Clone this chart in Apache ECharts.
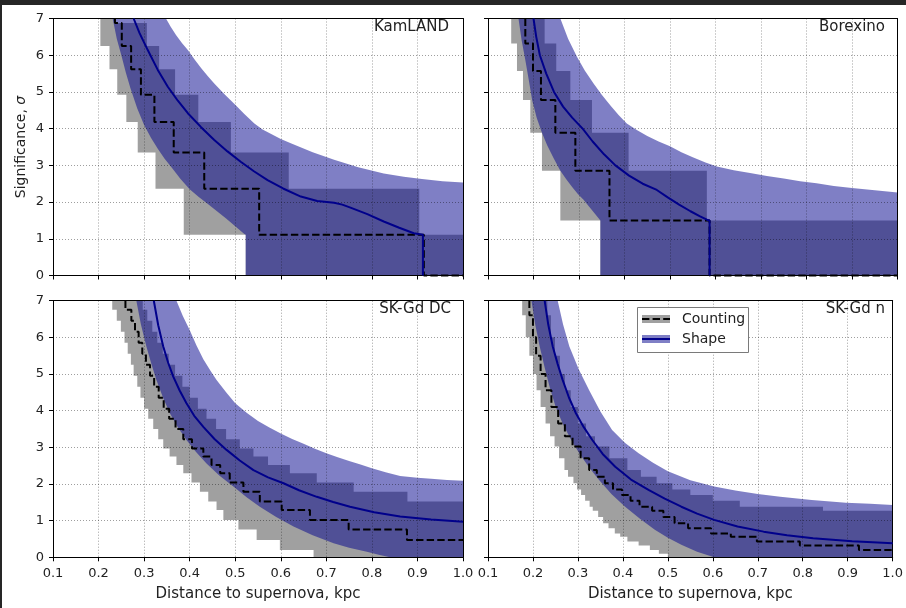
<!DOCTYPE html>
<html><head><meta charset="utf-8">
<script src="https://cdn.jsdelivr.net/npm/echarts@6/dist/echarts.min.js"></script>
<style>html,body{margin:0;padding:0;background:#fff}#c{width:906px;height:608px}</style>
</head><body><div id="c"></div>
<script>
// ================= DATA =================
const xTickLabels = ['0.1','0.2','0.3','0.4','0.5','0.6','0.7','0.8','0.9','1.0'];
const yTickLabels = ['0','1','2','3','4','5','6','7'];
const panelNames = ['KamLAND','Borexino','SK-Gd DC','SK-Gd n'];
const legendNames = ['Counting','Shape'];
const xAxisTitle = 'Distance to supernova, kpc';
const yAxisTitleText = 'Significance, ';
const yAxisTitleSymbol = '\u03c3';

// Counting: significance levels and the distance where each staircase drops to that level
const kamLevels = [6.88, 6.25, 5.62, 4.92, 4.18, 3.35, 2.36, 1.11, 0];
const kamCntLo  = [null, 0.204, 0.224, 0.241, 0.261, 0.286, 0.325, 0.387, 0.523];
const kamCntMed = [0.236, 0.251, 0.2715, 0.293, 0.3226, 0.365, 0.432, 0.5526, 0.914];
const kamCntHi  = [0.236, 0.306, 0.333, 0.368, 0.419, 0.4905, 0.6175, 0.904, null];
// Shape: curves [distance, significance]
const kamShpLo  = [[0.231,7],[0.24,6.45],[0.25,6.0],[0.26,5.52],[0.27,5.1],[0.285,4.55],[0.30,4.1],[0.315,3.75],[0.33,3.45],[0.345,3.18],[0.36,2.95],[0.38,2.63],[0.40,2.35],[0.42,2.14],[0.44,1.95],[0.46,1.75],[0.48,1.55],[0.50,1.34],[0.52,1.13],[0.523,1.11],[0.523,0],[1.0,0]];
const kamShpHi  = [[0.348,7],[0.358,6.78],[0.37,6.55],[0.383,6.33],[0.396,6.14],[0.41,5.9],[0.425,5.65],[0.44,5.43],[0.454,5.23],[0.477,4.93],[0.5,4.65],[0.52,4.4],[0.542,4.14],[0.56,3.98],[0.58,3.85],[0.6,3.72],[0.622,3.6],[0.67,3.36],[0.717,3.15],[0.77,2.95],[0.826,2.78],[0.87,2.69],[0.91,2.63],[0.955,2.57],[1.0,2.53]];
const kamShpMed = [[0.277,7],[0.29,6.6],[0.308,6.14],[0.33,5.6],[0.352,5.14],[0.374,4.76],[0.396,4.42],[0.425,4.04],[0.454,3.69],[0.483,3.38],[0.512,3.1],[0.541,2.84],[0.571,2.6],[0.605,2.37],[0.644,2.15],[0.68,2.03],[0.717,1.98],[0.735,1.93],[0.753,1.85],[0.79,1.67],[0.826,1.47],[0.86,1.3],[0.892,1.15],[0.912,1.11],[0.912,0]];

const borLevels = [6.32, 5.57, 4.78, 3.89, 2.85, 1.50, 0];
const borCntLo  = [0.151, 0.1637, 0.1769, 0.193, 0.2186, 0.259, 0.3468];
const borCntMed = [0.182, 0.1989, 0.2164, 0.248, 0.292, 0.367, 0.587];
const borCntHi  = [0.2245, 0.250, 0.281, 0.3285, 0.409, 0.581, null];
const borShpLo  = [[0.167,7],[0.174,6.4],[0.182,5.87],[0.19,5.3],[0.197,4.78],[0.207,4.3],[0.2186,3.89],[0.23,3.55],[0.244,3.2],[0.259,2.85],[0.272,2.62],[0.2845,2.42],[0.297,2.23],[0.31,2.06],[0.322,1.88],[0.335,1.68],[0.347,1.5],[0.347,0],[1.0,0]];
const borShpHi  = [[0.259,7],[0.276,6.45],[0.2955,5.96],[0.313,5.58],[0.332,5.23],[0.35,4.92],[0.37,4.62],[0.387,4.37],[0.405,4.14],[0.427,3.96],[0.45,3.8],[0.475,3.65],[0.5,3.52],[0.525,3.36],[0.55,3.22],[0.578,3.08],[0.603,2.97],[0.64,2.87],[0.676,2.79],[0.713,2.71],[0.75,2.64],[0.786,2.57],[0.822,2.51],[0.86,2.44],[0.9,2.38],[0.95,2.32],[1.0,2.26]];
const borShpMed = [[0.2,7],[0.206,6.5],[0.214,6],[0.228,5.5],[0.245,5],[0.265,4.6],[0.285,4.3],[0.308,4.0],[0.33,3.65],[0.355,3.3],[0.38,3.0],[0.41,2.72],[0.44,2.5],[0.471,2.33],[0.495,2.13],[0.52,1.93],[0.545,1.75],[0.565,1.62],[0.581,1.52],[0.587,1.5],[0.587,0]];

const dcLevels  = [6.75,6.45,6.15,5.85,5.55,5.25,4.95,4.65,4.35,4.05,3.78,3.5,3.22,2.97,2.75,2.52,2.29,2.04,1.79,1.52,1.29,1.02,0.76,0.47,0.2,0];
const dcCntLo   = [0.230,0.240,0.249,0.257,0.264,0.271,0.277,0.285,0.292,0.300,0.309,0.320,0.331,0.342,0.356,0.371,0.386,0.404,0.4225,0.4408,0.459,0.474,0.507,0.547,0.598,0.672];
const dcCntMed  = [0.259,0.272,0.28,0.288,0.296,0.304,0.313,0.322,0.332,0.343,0.355,0.369,0.386,0.405,0.43,0.448,0.467,0.488,0.518,0.554,0.602,0.664,0.749,0.877,null,null];
const dcCntHi   = [0.297,0.307,0.318,0.329,0.341,0.354,0.368,0.384,0.40,0.418,0.437,0.458,0.48,0.51,0.54,0.572,0.62,0.679,0.76,0.878,null,null,null,null,null,null];
const dcShpLo   = [[0.283,7],[0.293,6.35],[0.305,5.75],[0.316,5.27],[0.327,4.84],[0.341,4.37],[0.3565,3.93],[0.374,3.55],[0.393,3.2],[0.414,2.87],[0.437,2.56],[0.465,2.23],[0.496,1.93],[0.525,1.64],[0.554,1.38],[0.59,1.1],[0.628,0.84],[0.67,0.6],[0.716,0.38],[0.75,0.26],[0.789,0.15],[0.815,0.07],[0.84,0],[1.0,0]];
const dcShpHi   = [[0.371,7],[0.385,6.58],[0.4,6.2],[0.415,5.78],[0.43,5.4],[0.445,5.1],[0.459,4.84],[0.48,4.5],[0.5,4.2],[0.525,3.94],[0.55,3.72],[0.575,3.54],[0.6,3.38],[0.625,3.23],[0.65,3.1],[0.675,2.96],[0.7,2.84],[0.725,2.73],[0.75,2.63],[0.775,2.53],[0.8,2.43],[0.83,2.32],[0.862,2.22],[0.9,2.17],[0.93,2.14],[0.965,2.11],[1.0,2.09]];
const dcShpMed  = [[0.3213,7],[0.331,6.33],[0.342,5.75],[0.353,5.3],[0.364,4.93],[0.378,4.55],[0.393,4.2],[0.41,3.86],[0.43,3.56],[0.455,3.22],[0.481,2.93],[0.51,2.64],[0.54,2.38],[0.572,2.18],[0.606,2.02],[0.64,1.83],[0.679,1.65],[0.715,1.51],[0.752,1.38],[0.805,1.23],[0.862,1.11],[0.93,1.03],[1.0,0.97]];

const nLevels   = [6.6,6.0,5.5,5.0,4.56,4.1,3.65,3.3,3.02,2.7,2.38,2.2,2.02,1.85,1.7,1.54,1.38,1.27,1.1,0.93,0.79,0.65,0.56,0.43,0.32,0.2,0.1,0];
const nCntLo    = [0.176,0.184,0.192,0.2,0.208,0.217,0.228,0.238,0.248,0.258,0.27,0.278,0.29,0.298,0.307,0.316,0.326,0.333,0.345,0.356,0.368,0.382,0.394,0.41,0.435,0.46,0.48,0.5];
const nCntMed   = [0.192,0.2,0.207,0.217,0.228,0.241,0.256,0.271,0.288,0.306,0.325,0.342,0.36,0.378,0.398,0.417,0.437,0.465,0.49,0.515,0.545,0.596,0.64,0.698,0.7935,0.925,null,null];
const nCntHi    = [0.232,0.24,0.249,0.26,0.271,0.284,0.30,0.318,0.338,0.37,0.41,0.44,0.475,0.51,0.55,0.6,0.66,0.845,null,null,null,null,null,null,null,null,null,null];
const nShpLo    = [[0.1967,7],[0.205,6.35],[0.215,5.75],[0.226,5.18],[0.237,4.65],[0.25,4.12],[0.266,3.65],[0.284,3.22],[0.303,2.84],[0.325,2.45],[0.347,2.11],[0.375,1.72],[0.405,1.38],[0.438,1.05],[0.471,0.75],[0.5,0.53],[0.53,0.34],[0.565,0.15],[0.603,0],[1.0,0]];
const nShpHi    = [[0.255,7],[0.267,6.35],[0.281,5.75],[0.302,5.12],[0.325,4.56],[0.35,3.98],[0.376,3.47],[0.405,3.12],[0.435,2.84],[0.467,2.58],[0.5,2.35],[0.55,2.1],[0.603,1.93],[0.65,1.82],[0.7,1.73],[0.75,1.65],[0.82,1.56],[0.896,1.49],[0.95,1.46],[1.0,1.43]];
const nShpMed   = [[0.226,7],[0.234,6.35],[0.244,5.75],[0.255,5.27],[0.266,4.84],[0.28,4.36],[0.2955,3.93],[0.313,3.55],[0.332,3.2],[0.355,2.82],[0.383,2.47],[0.418,2.12],[0.457,1.84],[0.493,1.6],[0.53,1.38],[0.565,1.19],[0.603,1.02],[0.655,0.84],[0.713,0.7],[0.765,0.6],[0.823,0.52],[0.91,0.44],[1.0,0.38]];

// ================= LAYOUT / STYLE =================
const X_MIN = 0.1, X_MAX = 1.0, Y_MIN = 0, Y_MAX = 7;
const FONT = 'DejaVu Sans';
const GRAY_BAND = 'rgba(128,128,128,0.75)';
const BLUE_BAND = 'rgba(0,0,139,0.5)';
const NAVY = '#00008b';
const TXT = '#222';

const panels = [
  {levels:kamLevels, lo:kamCntLo, med:kamCntMed, hi:kamCntHi, sLo:kamShpLo, sHi:kamShpHi, sMed:kamShpMed},
  {levels:borLevels, lo:borCntLo, med:borCntMed, hi:borCntHi, sLo:borShpLo, sHi:borShpHi, sMed:borShpMed},
  {levels:dcLevels,  lo:dcCntLo,  med:dcCntMed,  hi:dcCntHi,  sLo:dcShpLo,  sHi:dcShpHi,  sMed:dcShpMed},
  {levels:nLevels,   lo:nCntLo,   med:nCntMed,   hi:nCntHi,   sLo:nShpLo,   sHi:nShpHi,   sMed:nShpMed}
];
const gridLayout = [
  {left:53,  top:18.5,  width:410,   height:257},
  {left:488, top:18.5,  width:409.5, height:257},
  {left:53,  top:300.7, width:410,   height:256.6},
  {left:488, top:300.7, width:409.5, height:256.6}
];
const titlePos = [
  {right:457, top:20}, {right:21, top:20}, {right:455, top:302}, {right:21, top:302}
];

// staircase -> polyline corners (starting at top of frame)
function stair(xs, levels) {
  const pts = []; let prev = Y_MAX;
  for (let i = 0; i < xs.length; i++) {
    if (xs[i] == null) continue;
    pts.push([xs[i], prev]); pts.push([xs[i], levels[i]]); prev = levels[i];
  }
  pts.push([X_MAX, prev]);
  return pts;
}

const grid = [], xAxis = [], yAxis = [], series = [], title = [];
const splitStyle = {show:true, lineStyle:{color:'rgba(0,0,0,0.38)', width:1, type:[1,2]}};

panels.forEach((p, i) => {
  grid.push(Object.assign({containLabel:false}, gridLayout[i]));
  const bottomRow = i >= 2, leftCol = i % 2 === 0;
  xAxis.push({type:'value', gridIndex:i, min:X_MIN, max:X_MAX, interval:0.1, position:'bottom', z:3,
    axisLine:{show:true, onZero:false, lineStyle:{color:'#000', width:1}},
    axisTick:{show:true, length:4, lineStyle:{color:'#000'}},
    axisLabel:{show:bottomRow, margin:10, fontSize:13, color:TXT, fontFamily:FONT,
      formatter:(v, idx) => xTickLabels[idx]},
    splitLine:splitStyle,
    name: bottomRow ? xAxisTitle : '', nameLocation:'middle', nameGap:29,
    nameTextStyle:{fontSize:15, color:TXT, fontFamily:FONT}});
  xAxis.push({type:'value', gridIndex:i, min:X_MIN, max:X_MAX, position:'top', z:3,
    axisLine:{show:true, onZero:false, lineStyle:{color:'#000', width:1}},
    axisTick:{show:false}, axisLabel:{show:false}, splitLine:{show:false}});
  yAxis.push({type:'value', gridIndex:i, min:Y_MIN, max:Y_MAX, interval:1, position:'left', z:3,
    axisLine:{show:true, onZero:false, lineStyle:{color:'#000', width:1}},
    axisTick:{show:true, length:4, lineStyle:{color:'#000'}},
    axisLabel:{show:leftCol, margin:9, fontSize:13, color:TXT, fontFamily:FONT,
      formatter:(v, idx) => yTickLabels[idx]},
    splitLine:splitStyle,
    name: i === 0 ? (yAxisTitleText + '{i|' + yAxisTitleSymbol + '}') : '',
    nameLocation:'middle', nameGap:25, nameRotate:90,
    nameTextStyle:{fontSize:14, color:TXT, fontFamily:FONT,
      rich:{i:{fontSize:14, color:TXT, fontFamily:FONT, fontStyle:'italic'}}}});
  yAxis.push({type:'value', gridIndex:i, min:Y_MIN, max:Y_MAX, position:'right', z:3,
    axisLine:{show:true, onZero:false, lineStyle:{color:'#000', width:1}},
    axisTick:{show:false}, axisLabel:{show:false}, splitLine:{show:false}});

  const xi = i * 2, yi = i * 2;
  const cntHiPts = stair(p.hi, p.levels), cntLoPts = stair(p.lo, p.levels), cntMedPts = stair(p.med, p.levels);
  const cntPoly = cntHiPts.concat(cntLoPts.slice().reverse());
  const shpPoly = p.sHi.concat(p.sLo.slice().reverse());
  const band = (poly, color, z) => ({
    type:'custom', xAxisIndex:xi, yAxisIndex:yi, z, silent:true, animation:false,
    data:[[X_MIN, Y_MIN]],
    renderItem:(params, api) => ({type:'polygon', shape:{points:poly.map(pt => api.coord(pt))}, style:{fill:color}})
  });
  series.push(band(cntPoly, GRAY_BAND, 1));
  series.push(band(shpPoly, BLUE_BAND, 1.5));
  series.push({type:'line', name:legendNames[0], xAxisIndex:xi, yAxisIndex:yi, data:cntMedPts, z:4,
    showSymbol:false, symbol:'none', clip:false, animation:false, silent:true,
    lineStyle:{color:'#000', width:2, type:[7.4,3.2]}});
  series.push({type:'line', name:legendNames[1], xAxisIndex:xi, yAxisIndex:yi, data:p.sMed, z:5,
    showSymbol:false, symbol:'none', clip:false, animation:false, silent:true,
    lineStyle:{color:NAVY, width:2}});
  title.push(Object.assign({text:panelNames[i], padding:0,
    textStyle:{fontSize:15, fontWeight:'normal', color:TXT, fontFamily:FONT}}, titlePos[i]));
});

const graphic = [
  {type:'rect', shape:{x:0, y:0, width:906, height:5}, style:{fill:'#262626'}, z:100},
  {type:'rect', shape:{x:0, y:0, width:2, height:608}, style:{fill:'#262626'}, z:100},
  {type:'rect', shape:{x:637.5, y:307.5, width:111, height:45}, style:{fill:'#fff', stroke:'#7a7a7a', lineWidth:1}, z:50},
  {type:'rect', shape:{x:642, y:315, width:28, height:8}, style:{fill:GRAY_BAND}, z:51},
  {type:'line', shape:{x1:642, y1:319, x2:670, y2:319}, style:{stroke:'#000', lineWidth:2, lineDash:[7.4,3.2]}, z:52},
  {type:'text', x:682, y:319, style:{text:legendNames[0], fontSize:14, fontFamily:FONT, fill:TXT, verticalAlign:'middle'}, z:52},
  {type:'rect', shape:{x:642, y:335, width:28, height:8}, style:{fill:BLUE_BAND}, z:51},
  {type:'line', shape:{x1:642, y1:339, x2:670, y2:339}, style:{stroke:NAVY, lineWidth:2}, z:52},
  {type:'text', x:682, y:339, style:{text:legendNames[1], fontSize:14, fontFamily:FONT, fill:TXT, verticalAlign:'middle'}, z:52}
];

const chart = echarts.init(document.getElementById('c'), null, {renderer:'canvas'});
chart.setOption({
  backgroundColor:'#fff', animation:false,
  textStyle:{fontFamily:FONT},
  title, grid, xAxis, yAxis, series, graphic
});
</script></body></html>
